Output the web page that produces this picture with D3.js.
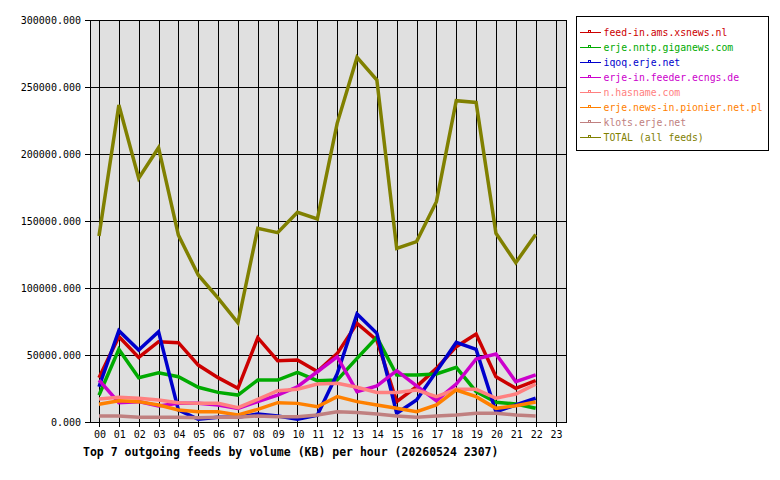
<!DOCTYPE html>
<html>
<head>
<meta charset="utf-8">
<script src="https://cdn.jsdelivr.net/npm/d3@7"></script>
<style>
  body { margin: 0; background: #ffffff; }
  svg { display: block; font-family: "DejaVu Sans Mono", monospace; }
</style>
</head>
<body>
<svg></svg>
<script>
// hours on the x axis
let hours = d3.range(0, 24)
let hourLabels = hours.map(h => (h < 10 ? "0" : "") + h)

let yTicks = [0, 50000, 100000, 150000, 200000, 250000, 300000]

let feedNames = [
  "feed-in.ams.xsnews.nl",
  "erje.nntp.giganews.com",
  "iqoq.erje.net",
  "erje-in.feeder.ecngs.de",
  "n.hasname.com",
  "erje.news-in.pionier.net.pl",
  "klots.erje.net",
  "TOTAL (all feeds)"
]
let feedColors = ["#cc0000", "#00aa00", "#0000cc", "#cc00cc", "#ff8080", "#ff8000", "#c08080", "#808000"]

// KB per hour, 00..22
let xsnews   = [33000, 63700, 48200, 59900, 59200, 42500, 33100, 25100, 62900, 45800, 46300, 37600, 51000, 73600, 61000, 15200, 26400, 40000, 56200, 65600, 33800, 25100, 30900]
let giganews = [20000, 54200, 33100, 36800, 33800, 25900, 22100, 20100, 31300, 31300, 37000, 30800, 31300, 47500, 63200, 35100, 35000, 35800, 40800, 22600, 14700, 13400, 10200]
let iqoq     = [26300, 68100, 53700, 67400, 9000, 2000, 3500, 3500, 6000, 4500, 2000, 5000, 36000, 80600, 66200, 6500, 16400, 37600, 59400, 54200, 7700, 12700, 17700]
let ecngs    = [31300, 14400, 15200, 11900, 13900, 13900, 12700, 10200, 15200, 20100, 26300, 37500, 48700, 22600, 26900, 38300, 26900, 15900, 28300, 47000, 50700, 30100, 35100]
let hasname  = [17200, 18400, 17700, 16400, 14400, 13900, 13900, 10700, 16900, 23400, 24400, 28300, 28900, 25900, 22100, 22100, 23900, 18900, 24400, 24400, 17700, 20900, 28300]
let pionier  = [13200, 15900, 15200, 12700, 9000, 7700, 7700, 5200, 9400, 14400, 13900, 11400, 18900, 15200, 12700, 10200, 7700, 12700, 23900, 18900, 10200, 12200, 14900]
let klots    = [4500, 4500, 3500, 3500, 3500, 3200, 3500, 3500, 4500, 4000, 4000, 5200, 7700, 7000, 6000, 4500, 3500, 4500, 5200, 6500, 6500, 5200, 4500]
let total    = [138800, 236600, 181900, 204700, 139500, 109700, 92500, 74000, 144500, 141300, 156500, 151500, 222900, 272100, 255200, 129600, 134600, 164400, 239800, 238500, 140800, 118900, 140000]

// drawn in this order so TOTAL ends on top like the original
let series = [xsnews, giganews, iqoq, ecngs, hasname, pionier, klots, total]

let width = 780
let height = 480
let plot = { left: 90, right: 566, top: 20, bottom: 422 }

let svg = d3.select("svg")
  .attr("width", width)
  .attr("height", height)

let xScale = d3.scaleLinear()
  .domain([0, 23])
  .range([99, 555.5])

let yScale = d3.scaleLinear()
  .domain([0, 300000])
  .range([plot.bottom, plot.top])

// plot background
svg.append("rect")
  .attr("x", plot.left)
  .attr("y", plot.top)
  .attr("width", plot.right - plot.left)
  .attr("height", plot.bottom - plot.top)
  .attr("fill", "#e0e0e0")

// grid lines
svg.append("g")
  .selectAll("line")
  .data(hours)
  .enter()
  .append("line")
  .attr("x1", h => Math.round(xScale(h)) + 0.5)
  .attr("x2", h => Math.round(xScale(h)) + 0.5)
  .attr("y1", plot.top)
  .attr("y2", plot.bottom + 5)
  .attr("stroke", "#000")
  .attr("shape-rendering", "crispEdges")

svg.append("g")
  .selectAll("line")
  .data(yTicks)
  .enter()
  .append("line")
  .attr("x1", plot.left - 5)
  .attr("x2", plot.right)
  .attr("y1", v => Math.round(yScale(v)) + 0.5)
  .attr("y2", v => Math.round(yScale(v)) + 0.5)
  .attr("stroke", "#000")
  .attr("shape-rendering", "crispEdges")

// border
svg.append("rect")
  .attr("x", plot.left + 0.5)
  .attr("y", plot.top + 0.5)
  .attr("width", plot.right - plot.left)
  .attr("height", plot.bottom - plot.top)
  .attr("fill", "none")
  .attr("stroke", "#000")
  .attr("shape-rendering", "crispEdges")

// axis labels
let yAxis = d3.axisLeft(yScale)
  .tickValues(yTicks)
  .tickFormat(d3.format(".3f"))
  .tickSize(0)
  .tickPadding(9)
let yg = svg.append("g")
  .attr("transform", "translate(" + plot.left + ",0.5)")
  .call(yAxis)
yg.select(".domain").remove()
yg.selectAll("text")
  .style("font-family", "DejaVu Sans Mono, monospace")
  .style("font-size", "10px")
  .attr("fill", "#000")

let xAxis = d3.axisBottom(xScale)
  .tickValues(hours)
  .tickFormat(h => hourLabels[h])
  .tickSize(0)
  .tickPadding(9)
let xg = svg.append("g")
  .attr("transform", "translate(0.5," + plot.bottom + ")")
  .call(xAxis)
xg.select(".domain").remove()
xg.selectAll("text")
  .style("font-family", "DejaVu Sans Mono, monospace")
  .style("font-size", "10px")
  .attr("fill", "#000")

// series lines
let line = d3.line()
  .x((d, i) => xScale(i))
  .y(d => yScale(d))

svg.append("g")
  .selectAll("path")
  .data(series)
  .enter()
  .append("path")
  .attr("d", d => line(d))
  .attr("fill", "none")
  .attr("stroke", (d, i) => feedColors[i])
  .attr("stroke-width", 3.5)
  .attr("stroke-linejoin", "miter")

// title
svg.append("text")
  .attr("x", 83)
  .attr("y", 456)
  .style("font-size", "11.5px")
  .style("font-weight", "bold")
  .text("Top 7 outgoing feeds by volume (KB) per hour (20260524 2307)")

// legend
let legend = svg.append("g")
legend.append("rect")
  .attr("x", 576.5)
  .attr("y", 16.5)
  .attr("width", 192)
  .attr("height", 134)
  .attr("fill", "#fff")
  .attr("stroke", "#000")
  .attr("shape-rendering", "crispEdges")

let rows = legend.selectAll("g.row")
  .data(feedNames)
  .enter()
  .append("g")
  .attr("class", "row")
  .attr("transform", (d, i) => "translate(0," + (32 + i * 15) + ")")

rows.append("line")
  .attr("x1", 580)
  .attr("x2", 601)
  .attr("y1", 0.5)
  .attr("y2", 0.5)
  .attr("stroke", (d, i) => feedColors[i])
  .attr("shape-rendering", "crispEdges")
rows.append("rect")
  .attr("x", 588.5)
  .attr("y", -1.5)
  .attr("width", 2)
  .attr("height", 2)
  .attr("fill", "#fff")
  .attr("stroke", (d, i) => feedColors[i])
  .attr("shape-rendering", "crispEdges")
rows.append("text")
  .attr("x", 603.5)
  .attr("y", 4)
  .style("font-size", "9.8px")
  .attr("fill", (d, i) => feedColors[i])
  .text(d => d)
</script>
</body>
</html>
